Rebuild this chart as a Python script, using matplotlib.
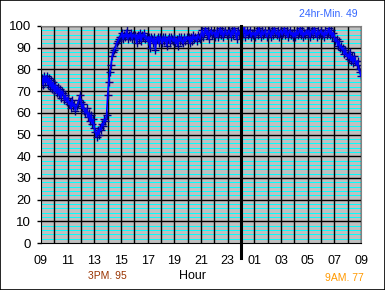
import matplotlib
matplotlib.use('Agg')
import numpy as np
import matplotlib.pyplot as plt
from matplotlib.patches import Rectangle

plt.rcParams['font.family'] = ['Liberation Sans', 'DejaVu Sans']

# humidity readings every 5 minutes, one row per hour, starting 09:00
hour_rows = [
    [72, 76, 73, 77, 74, 77, 73, 76, 72, 75, 71, 74],  # 09
    [70, 73, 69, 72, 68, 71, 67, 70, 69, 66, 68, 65],  # 10
    [67, 64, 65, 62, 66, 63, 64, 61, 63, 64, 66, 68],  # 11
    [65, 62, 64, 61, 60, 62, 58, 60, 56, 59, 55, 57],  # 12
    [53, 51, 49, 52, 50, 53, 52, 55, 54, 57, 56, 59],  # 13
    [68, 74, 79, 82, 86, 88, 89, 90, 92, 93, 94, 95],  # 14
    [95, 97, 94, 96, 95, 98, 94, 96, 95, 97, 94, 96],  # 15
    [95, 96, 92, 96, 94, 97, 93, 96, 95, 97, 94, 95],  # 16
    [93, 95, 90, 95, 94, 92, 95, 89, 94, 95, 92, 95],  # 17
    [94, 92, 95, 93, 95, 91, 94, 95, 92, 95, 94, 93],  # 18
    [95, 92, 94, 91, 95, 93, 95, 93, 92, 95, 93, 95],  # 19
    [94, 95, 92, 95, 93, 96, 94, 95, 93, 96, 95, 94],  # 20
    [96, 98, 95, 97, 99, 96, 98, 94, 97, 98, 96, 97],  # 21
    [97, 95, 98, 95, 97, 99, 96, 98, 95, 97, 98, 96],  # 22
    [96, 98, 97, 95, 98, 96, 99, 97, 94, 98, 96, 97],  # 23
    [98, 95, 97, 100, 95, 98, 96, 97, 98, 95, 97, 96],  # 00
    [97, 95, 98, 96, 99, 97, 95, 98, 96, 97, 98, 95],  # 01
    [96, 98, 97, 95, 98, 96, 99, 97, 96, 98, 95, 97],  # 02
    [98, 96, 97, 99, 96, 98, 95, 97, 98, 96, 97, 95],  # 03
    [97, 95, 98, 96, 97, 99, 96, 98, 95, 97, 96, 98],  # 04
    [96, 98, 95, 97, 98, 96, 99, 97, 95, 98, 96, 97],  # 05
    [98, 96, 97, 95, 98, 96, 97, 99, 96, 98, 95, 97],  # 06
    [95, 93, 94, 91, 93, 90, 91, 89, 90, 87, 89, 86],  # 07
    [87, 85, 88, 84, 86, 83, 86, 84, 82, 84, 80, 79],  # 08
]
last_value = 77  # 09:00 next day

tick_labels = ['09', '11', '13', '15', '17', '19', '21', '23',
               '01', '03', '05', '07', '09']

values = [v for row in hour_rows for v in row] + [last_value]
hours = np.arange(len(values)) * 5 / 60.0

fig = plt.figure(figsize=(3.85, 2.9), dpi=100)
fig.patches.append(Rectangle((0, 0), 1, 1, transform=fig.transFigure,
                             fill=False, edgecolor='black', linewidth=1.2))
ax = fig.add_axes([41/385, 47/290, 320/385, 217/290])
ax.set_facecolor('#c0c0c0')

ax.set_xlim(0, 24)
ax.set_ylim(0, 100)
ax.set_yticks(range(0, 101, 10))
ax.set_xticks(range(0, 25, 2))
ax.set_xticklabels(tick_labels)

# cyan minor grid, black major grid
for y in range(2, 100, 2):
    if y % 10:
        ax.axhline(y, color='#00ffff', lw=0.7, zorder=0.5)
for y in range(10, 101, 10):
    ax.axhline(y, color='black', lw=1.0, zorder=0.6)
for h in range(1, 25):
    ax.axvline(h, color='black', lw=1.0, zorder=0.6)

# midnight marker
ax.plot([15, 15], [100, -7], color='black', lw=2.2, clip_on=False, zorder=3)

# navy crosses underneath, blue trace on top
ax.plot(hours, values, ls='none', marker='+', ms=6,
        mec='#000080', mew=1.0, zorder=2)
ax.plot(hours, values, color='#0000ff', lw=1.2, zorder=2.5)

ax.tick_params(axis='y', length=3, width=1, pad=4, labelsize=9.5)
ax.tick_params(axis='x', length=0, pad=9, labelsize=9)
for s in ['left', 'bottom']:
    ax.spines[s].set_color('black')
for s in ['top', 'right']:
    ax.spines[s].set_color('#808080')

fig.text(193/385, 1 - 276/290, 'Hour', ha='center', va='center', fontsize=9)
fig.text(107/385, 1 - 276/290, '3PM. 95', ha='center', va='center',
         fontsize=7.5, color='#993300')
fig.text(344/385, 1 - 278/290, '9AM. 77', ha='center', va='center',
         fontsize=7.5, color='#ff9900')
fig.text(328/385, 1 - 14/290, '24hr-Min. 49', ha='center', va='center',
         fontsize=7.5, color='#3366ff')

fig.savefig('out.png', dpi=100)
